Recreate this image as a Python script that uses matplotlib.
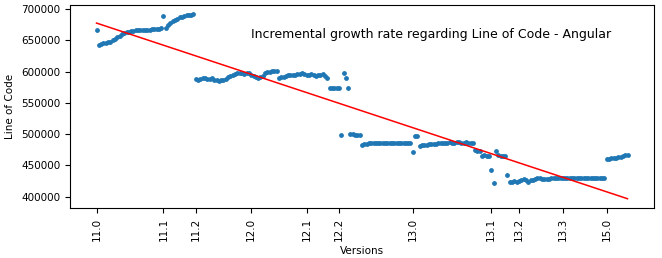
import numpy as np
import matplotlib
matplotlib.use("Agg")
import matplotlib.pyplot as plt

# Lines of code per version (in thousands), one value per release index
loc_11_0 = [666,
            643, 644, 645, 646, 647, 648, 650, 652, 655, 657, 660, 662, 663, 664,
            665, 665, 666, 666, 666, 667, 667, 667, 667, 668, 668, 668, 668, 669]
loc_11_1 = [689, 670, 675, 678, 681, 683, 685, 687, 688, 689, 690, 691, 691, 692]
loc_11_2 = [588, 587, 588, 589, 589, 588, 588, 589, 587, 586, 585, 586,
            587, 588, 591, 593, 595, 596, 597, 597, 597, 596, 598, 597]
loc_12_0 = [595, 593, 592, 590, 591, 593, 597, 599, 600, 601, 601, 601,
            590, 591, 592, 593, 594, 594, 595, 595, 596, 596, 597, 596]
loc_12_1 = [595, 594, 596, 594, 593, 595, 594, 596, 593, 590, 573, 574, 573, 573]
loc_12_2 = [573, 498, 597, 590, 574, 500, 500, 499, 499, 499,
            483, 484, 484, 485, 485, 485, 485, 485, 485, 485,
            485, 485, 485, 485, 485, 485, 485, 485, 485, 485, 485, 485]
loc_13_0 = [471, 497, 497,
            481, 482, 483, 483, 484, 484, 484, 484, 485, 485, 486, 486,
            486, 487, 486, 486, 487, 487, 486, 486, 487, 486,
            486, 485, 474, 473, 473, 465, 466, 465, 465]
loc_13_1 = [443, 422, 473, 466, 465, 465, 465, 434, 424, 424, 425, 424]
loc_13_2 = [425, 427, 428, 427, 424, 426, 427, 428, 429, 429, 428, 428,
            428, 428, 429, 429, 429, 429, 429]
loc_13_3 = [430] * 19
loc_15_0 = [460, 460, 461, 461, 462, 463, 464, 465, 466, 467]

groups = [("11.0", loc_11_0), ("11.1", loc_11_1), ("11.2", loc_11_2),
          ("12.0", loc_12_0), ("12.1", loc_12_1), ("12.2", loc_12_2),
          ("13.0", loc_13_0), ("13.1", loc_13_1), ("13.2", loc_13_2),
          ("13.3", loc_13_3), ("15.0", loc_15_0)]

loc = []
tick_pos = []
tick_labels = []
for name, vals in groups:
    tick_pos.append(len(loc))
    tick_labels.append(name)
    loc.extend(vals)

y = np.array(loc) * 1000
x = np.arange(len(y))

# linear trend
slope, intercept = np.polyfit(x, y, 1)

fig = plt.figure(figsize=(6.62, 2.58), dpi=100)
ax = fig.add_axes([0.1057, 0.194, 0.8823, 0.787])
ax.scatter(x, y, s=6, color="C0", zorder=2)
ax.plot(x, slope * x + intercept, color="red", linewidth=1.1, zorder=3)

ax.set_xticks(tick_pos)
ax.set_xticklabels(tick_labels, rotation=90, fontsize=7.5)
ax.tick_params(axis="y", labelsize=7.5)
ax.set_yticks([400000, 450000, 500000, 550000, 600000, 650000, 700000])
ax.set_xlabel("Versions", fontsize=7.5)
ax.set_ylabel("Line of Code", fontsize=7.5)
ax.text(0.31, 0.835, "Incremental growth rate regarding Line of Code - Angular",
        transform=ax.transAxes, fontsize=9)

fig.savefig("out.png", dpi=100)
